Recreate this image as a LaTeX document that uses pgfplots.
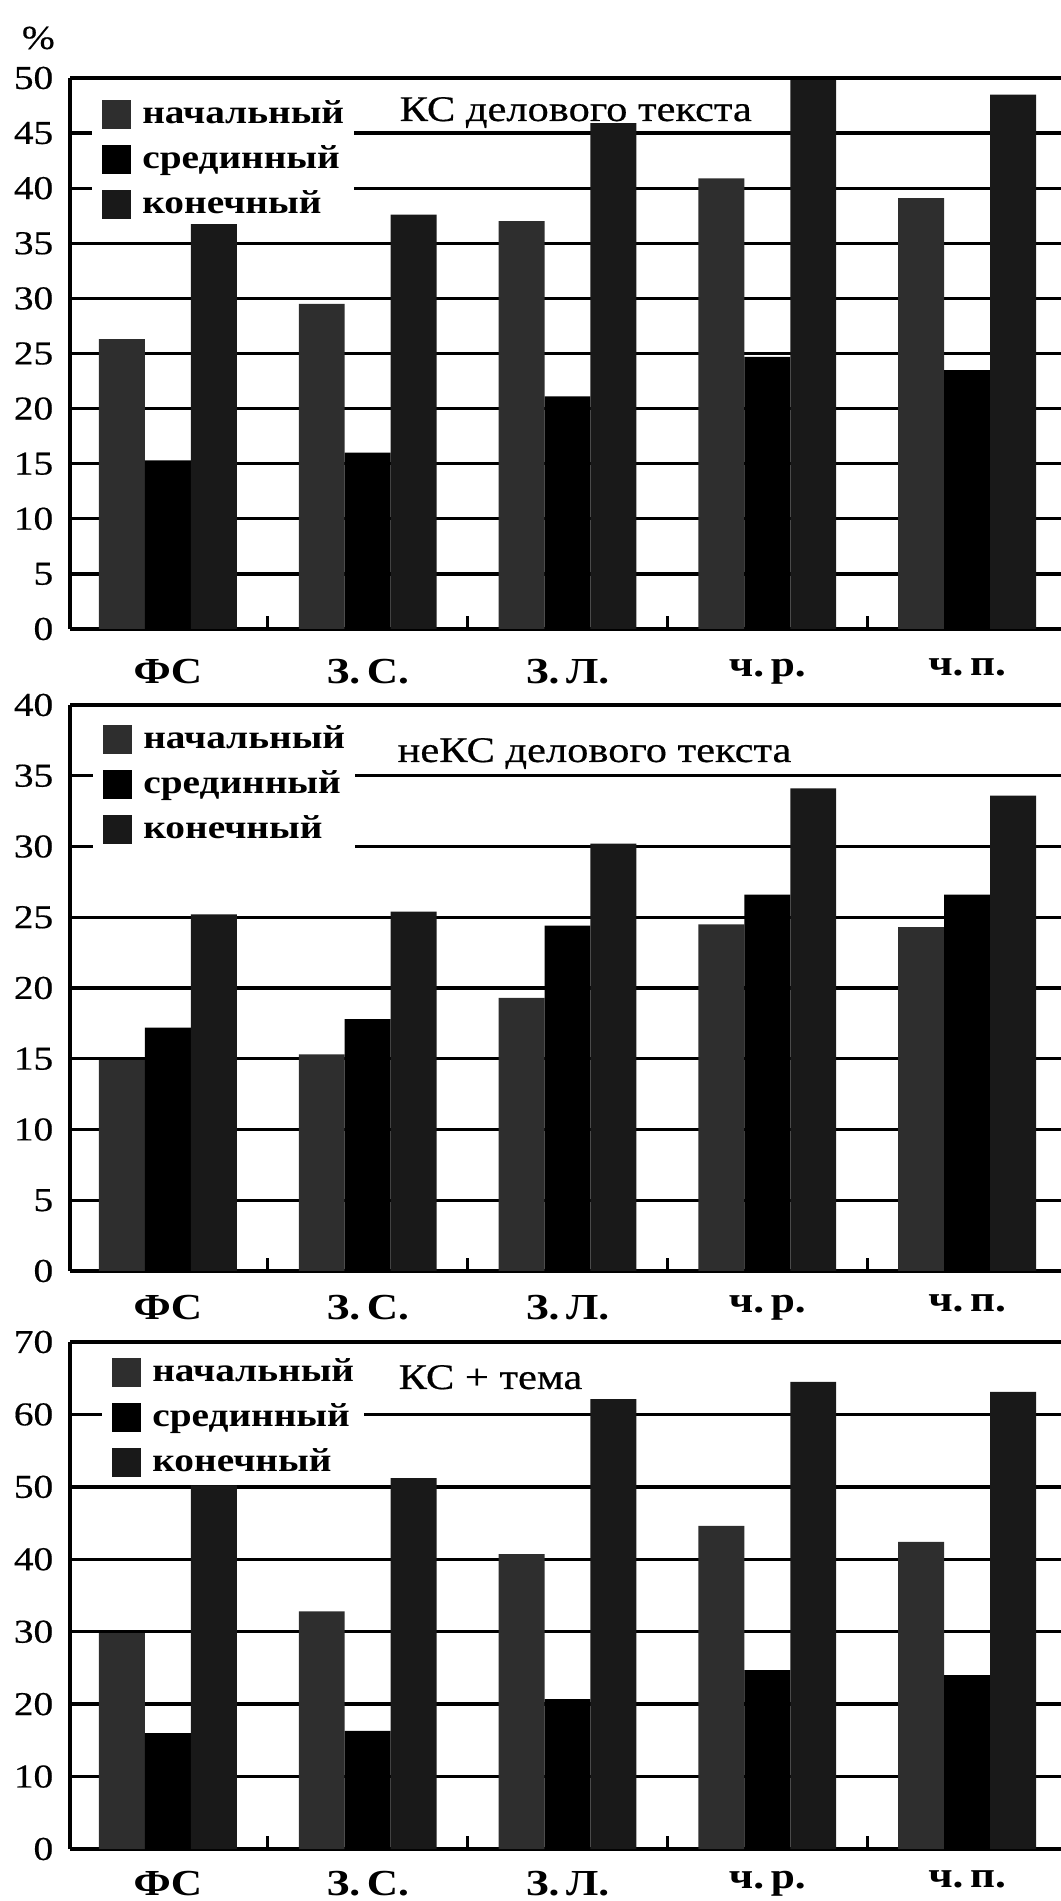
\documentclass[border=0pt]{standalone}
\usepackage{fontspec}
\setmainfont{Liberation Serif}[FakeStretch=1.18, UprightFeatures={FakeBold=0.5}]
\usepackage{pgfplots}
\pgfplotsset{compat=1.18}

\definecolor{cStart}{gray}{0.18}
\definecolor{cMid}{gray}{0.0}
\definecolor{cEnd}{gray}{0.10}

\tikzset{paneltitle/.style={anchor=base west, inner sep=0pt, font=\fontsize{10.8}{13}\selectfont}}
\newcommand{\gap}{\kern2pt}

\pgfplotsset{
  panel/.style={
    scale only axis,
    width=297.3pt,
    xmin=-0.49, xmax=4.47, ymin=0,
    clip=false,
    axis x line*=bottom, axis y line*=left,
    axis line style={line width=1.1pt, -},
    ybar, bar width=0.23,
    xtick={0,1,2,3,4},
    xticklabels={ФС, З.\gap С., З.\gap Л., ч.\gap р., ч.\gap п.},
    xticklabel style={font=\fontsize{11}{13}\selectfont\bfseries},
    yticklabel style={xshift=-1.5pt},
    minor xtick={0.5,1.5,2.5,3.5},
    major tick length=0pt, minor tick length=4pt,
    tick align=inside,
    tick style={black, line width=0.9pt},
    ymajorgrids,
    grid style={black, line width=1pt},
    /pgf/number format/assume math mode=true,
    legend image code/.code={\fill[##1] (0pt,-4.35pt) rectangle (8.7pt,4.35pt);},
    legend cell align=left,
    legend style={draw=none, fill=white, inner xsep=3pt, inner ysep=1pt,
      row sep=4pt, column sep=3.5pt, font=\bfseries,
      nodes={inner sep=0pt, text height=7.5pt, text depth=2pt},
      anchor=north west, at={(axis description cs:0,1)}},
  },
  pStart/.style={fill=cStart, draw=none, bar shift=-0.23},
  pMid/.style={fill=cMid, draw=none, bar shift=0},
  pEnd/.style={fill=cEnd, draw=none, bar shift=0.23},
}

\begin{document}
\begin{tikzpicture}
\useasboundingbox (0,0) rectangle (318.3pt,570.3pt);

% Panel 1: КС делового текста
\begin{axis}[panel, at={(21pt,381.6pt)}, anchor=south west, height=165.3pt,
  ymax=50, ytick={0,5,...,50},
  xticklabel style={yshift=-5.4pt},
  legend style={xshift=6.3pt, yshift=-5pt}]
\addplot[pStart] coordinates {(0,26.3) (1,29.5) (2,37.0) (3,40.9) (4,39.1)};
\addplot[pMid]   coordinates {(0,15.3) (1,16.0) (2,21.1) (3,24.7) (4,23.5)};
\addplot[pEnd]   coordinates {(0,36.8) (1,37.6) (2,45.9) (3,49.8) (4,48.5)};
\legend{начальный, срединный, конечный}
\node[paneltitle, xshift=98.7pt, yshift=-12.9pt] at (rel axis cs:0,1) {КС делового текста};
\node[anchor=center, xshift=-9.5pt, yshift=12pt] at (rel axis cs:0,1) {\%};
\end{axis}

% Panel 2: неКС делового текста
\begin{axis}[panel, at={(21pt,189pt)}, anchor=south west, height=169.8pt,
  ymax=40, ytick={0,5,...,40},
  xticklabel style={yshift=-3.6pt},
  legend style={xshift=6.6pt, yshift=-4.45pt}]
\addplot[pStart] coordinates {(0,14.9) (1,15.3) (2,19.3) (3,24.5) (4,24.3)};
\addplot[pMid]   coordinates {(0,17.2) (1,17.8) (2,24.4) (3,26.6) (4,26.6)};
\addplot[pEnd]   coordinates {(0,25.2) (1,25.4) (2,30.2) (3,34.1) (4,33.6)};
\legend{начальный, срединный, конечный}
\node[paneltitle, xshift=98.1pt, yshift=-17.1pt] at (rel axis cs:0,1) {неКС делового текста};
\end{axis}

% Panel 3: КС + тема
\begin{axis}[panel, at={(21pt,15.6pt)}, anchor=south west, height=152.1pt,
  ymax=70, ytick={0,10,...,70},
  xticklabel style={yshift=-3pt},
  legend style={xshift=9.3pt, yshift=-3.25pt}]
\addplot[pStart] coordinates {(0,29.8) (1,32.8) (2,40.7) (3,44.6) (4,42.4)};
\addplot[pMid]   coordinates {(0,16.0) (1,16.3) (2,20.7) (3,24.7) (4,24.0)};
\addplot[pEnd]   coordinates {(0,50.2) (1,51.2) (2,62.1) (3,64.5) (4,63.1)};
\legend{начальный, срединный, конечный}
\node[paneltitle, xshift=98.4pt, yshift=-14.1pt] at (rel axis cs:0,1) {КС + тема};
\end{axis}
\end{tikzpicture}
\end{document}
